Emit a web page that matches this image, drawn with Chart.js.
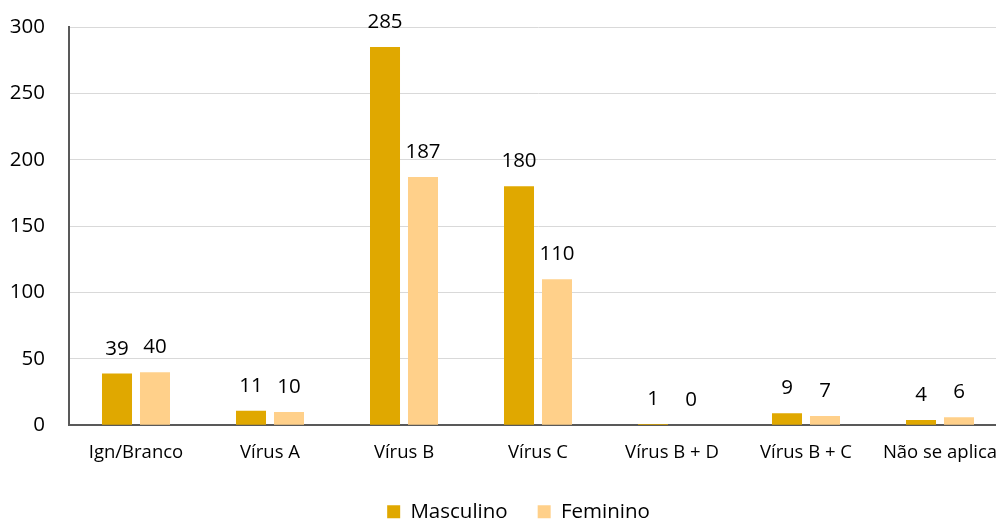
<!DOCTYPE html>
<html>
<head>
<meta charset="utf-8">
<script src="https://cdn.jsdelivr.net/npm/chart.js@4/dist/chart.umd.min.js"></script>
<style>
  html, body { margin: 0; padding: 0; background: #fff; overflow: hidden; }
  #wrap { width: 1036px; height: 520px; position: relative; }
</style>
</head>
<body>
<div id="wrap"><canvas id="chart"></canvas></div>
<script>
const categories = ["Ign/Branco", "Vírus A", "Vírus B", "Vírus C", "Vírus B + D", "Vírus B + C", "Não se aplica"];
const masculino = [39, 11, 285, 180, 1, 9, 4];
const feminino = [40, 10, 187, 110, 0, 7, 6];
const seriesNames = ["Masculino", "Feminino"];
const colors = ["#E0A800", "#FFD08A"];

const FONT = "'Open Sans', 'DejaVu Sans', sans-serif";

// Draw value labels above each bar
const valueLabels = {
    id: "valueLabels",
    afterDatasetsDraw(chart) {
        const ctx = chart.ctx;
        ctx.save();
        ctx.font = `20.5px ${FONT}`;
        ctx.fillStyle = "#000";
        ctx.textAlign = "center";
        ctx.textBaseline = "alphabetic";
        chart.data.datasets.forEach((ds, i) => {
            chart.getDatasetMeta(i).data.forEach((bar, j) => {
                ctx.fillText(String(ds.data[j]), bar.x, bar.y - 19);
            });
        });
        ctx.restore();
    },
};

// Legend takes less room than Chart.js reserves, then is nudged into place
const LEGEND_SHRINK = 8;
const LEGEND_SHIFT_X = 15;
const legendShrink = {
    id: "legendShrink",
    beforeLayout(chart) {
        const legend = chart.legend;
        if (legend && !legend._shrunk) {
            const fit = legend.fit;
            legend.fit = function () {
                fit.call(this);
                this.height -= LEGEND_SHRINK;
            };
            legend._shrunk = true;
        }
    },
    afterLayout(chart) {
        const legend = chart.legend;
        if (legend) {
            legend.top -= LEGEND_SHRINK;
            legend.bottom -= LEGEND_SHRINK;
            legend.left += LEGEND_SHIFT_X;
            legend.right += LEGEND_SHIFT_X;
        }
    },
};

new Chart(document.getElementById("chart").getContext("2d"), {
    type: "bar",
    data: {
        labels: categories,
        datasets: [
            { label: seriesNames[0], data: masculino, backgroundColor: colors[0] },
            { label: seriesNames[1], data: feminino, backgroundColor: colors[1] },
        ],
    },
    options: {
        responsive: true,
        maintainAspectRatio: false,
        animation: false,
        layout: { padding: { top: 27, right: 29, left: 0, bottom: -12 } },
        datasets: {
            bar: { categoryPercentage: 0.567, barPercentage: 0.79 },
        },
        scales: {
            x: {
                grid: { display: false, drawTicks: false },
                border: { color: "#595959", width: 2 },
                ticks: { color: "#000", font: { family: FONT, size: 18.5 }, padding: 16, maxRotation: 0, autoSkip: false },
            },
            y: {
                min: 0,
                max: 300,
                ticks: { stepSize: 50, color: "#000", font: { family: FONT, size: 20.5 }, padding: 4 },
                grid: { color: "#d9d9d9", drawTicks: true, tickLength: 20, tickColor: "rgba(0,0,0,0)" },
                border: { color: "#595959", width: 2 },
                afterFit(scale) {
                    scale.width = 69;
                },
            },
        },
        plugins: {
            legend: {
                position: "bottom",
                labels: {
                    boxWidth: 13,
                    boxHeight: 13,
                    padding: 30,
                    color: "#000",
                    font: { family: FONT, size: 20.5 },
                },
            },
            tooltip: { enabled: false },
        },
    },
    plugins: [valueLabels, legendShrink],
});
</script>
</body>
</html>
